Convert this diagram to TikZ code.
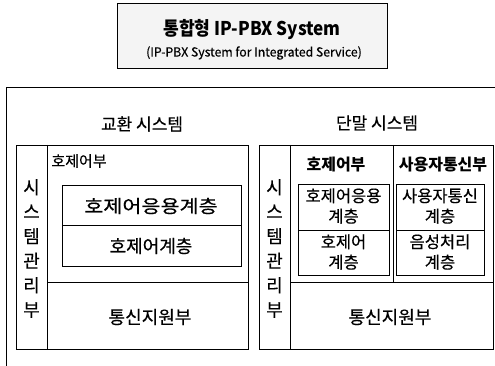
\documentclass[tikz,border=0pt]{standalone}
\usepackage{fontspec}
\setmainfont{Noto Sans CJK KR}[UprightFeatures={FakeBold=0.4}]
\begin{document}
\begin{tikzpicture}[x=1pt,y=-1pt,line width=0.9pt,
  txt/.style={inner sep=0pt,anchor=center,align=center},
  big/.style={txt,font=\fontsize{18}{18}\selectfont},
  mid/.style={txt,font=\fontsize{16.5}{20.5}\selectfont},
  vert/.style={txt,font=\fontsize{18}{24.5}\selectfont}]
\useasboundingbox (0,0) rectangle (495,366);
% title
\draw[fill=gray!9] (117,3) rectangle (387,68);
\node[txt,font=\bfseries\fontsize{18}{18}\selectfont] (t1) at (252,30) {\scalebox{0.95}[1.05]{통합형 IP-PBX System}};
\node[txt,font=\fontsize{12.5}{12.5}\selectfont] (t2) at (254,53) {\scalebox{0.98}[1]{(IP-PBX System for Integrated Service)}};
% outer frame
\draw (495,87) -- (6,87) -- (6,366);
% left system
\node[txt,font=\fontsize{17}{17}\selectfont] (ls) at (142,124) {교환 시스템};
\draw (16,145) rectangle (248,349);
\draw (47,145) -- (47,349);
\draw (47,282) -- (248,282);
\draw (62,185) rectangle (241,266);
\draw (62,225) -- (241,225);
\node[txt,anchor=west,font=\fontsize{15}{15}\selectfont] (lh) at (51,161) {호제어부};
\node[big] (la) at (151,206) {\scalebox{1.15}[1]{호제어응용계층}};
\node[big] (lc) at (151,246) {호제어계층};
\node[big] (lt) at (150,317) {통신지원부};
\node[vert] (lm) at (31.5,248.5) {시\\스\\템\\관\\리\\부};
% right system
\node[txt,font=\fontsize{17}{17}\selectfont] (rs) at (377,123) {단말 시스템};
\draw (259,145) rectangle (493,349);
\draw (290,145) -- (290,349);
\draw (290,282) -- (493,282);
\draw (393,145) -- (393,282);
\draw (298,184) rectangle (389,275);
\draw (298,230) -- (389,230);
\draw (396,184) rectangle (484,275);
\draw (396,230) -- (484,230);
\node[mid,font=\bfseries\fontsize{16}{16}\selectfont] (rh) at (336,165) {호제어부};
\node[mid,font=\bfseries\fontsize{16}{16}\selectfont] (ru) at (443,165) {사용자통신부};
\node[mid] (ra) at (343.5,206) {호제어응용\\계층};
\node[mid] (rc) at (343.5,252) {호제어\\계층};
\node[mid] (rb) at (440,206) {사용자통신\\계층};
\node[mid] (rd) at (440,252) {음성처리\\계층};
\node[big] (rt) at (390,317) {통신지원부};
\node[vert] (rm) at (274.5,248.5) {시\\스\\템\\관\\리\\부};
\end{tikzpicture}
\end{document}
